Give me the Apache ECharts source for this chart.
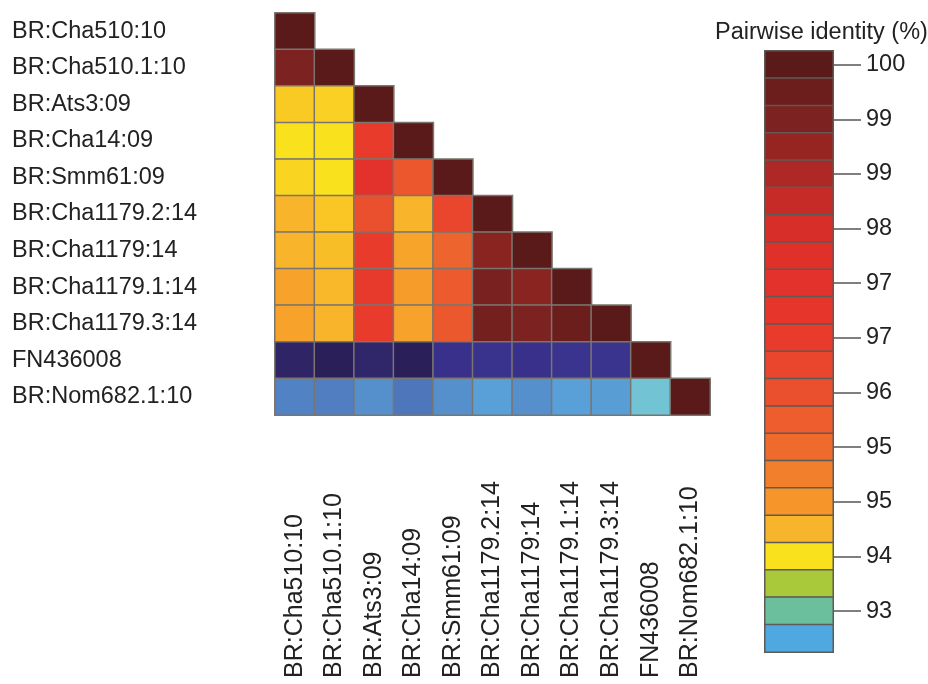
<!DOCTYPE html>
<html>
<head>
<meta charset="utf-8">
<script src="https://cdn.jsdelivr.net/npm/echarts@6/dist/echarts.min.js"></script>
<style>
  html, body { margin: 0; background: #fff; }
  #chart { width: 928px; height: 684px; }
</style>
</head>
<body>
<div id="chart"></div>
<script>
const names = [
  'BR:Cha510:10', 'BR:Cha510.1:10', 'BR:Ats3:09', 'BR:Cha14:09', 'BR:Smm61:09',
  'BR:Cha1179.2:14', 'BR:Cha1179:14', 'BR:Cha1179.1:14', 'BR:Cha1179.3:14',
  'FN436008', 'BR:Nom682.1:10'
]

// pairwise identity (%), lower triangle, row by row
const identity = [
  [100],
  [99.24, 100],
  [94.13, 94.09, 100],
  [93.96, 93.96, 96.6, 100],
  [94.06, 93.96, 97.26, 95.78, 100],
  [94.29, 94.16, 95.94, 94.29, 96.27, 100],
  [94.29, 94.22, 96.6, 94.46, 95.45, 99.08, 100],
  [94.49, 94.26, 96.76, 94.55, 95.68, 99.31, 99.08, 100],
  [94.49, 94.29, 96.6, 94.49, 95.74, 99.41, 99.24, 99.57, 100],
  [90.59, 90.33, 90.66, 90.33, 90.99, 91.06, 90.99, 91.09, 91.09, 100],
  [92.05, 91.98, 92.31, 91.88, 92.31, 92.64, 92.31, 92.64, 92.57, 93.14, 100]
]

// colour bar blocks, top to bottom
const legendValues = [
  99.9, 99.57, 99.24, 98.91, 98.58, 98.25, 97.92, 97.59, 97.26, 96.93, 96.6,
  96.27, 95.94, 95.61, 95.28, 94.95, 94.62, 94.29, 93.96, 93.63, 93.3, 92.97
]
const legendLabels = ['100', '99', '99', '98', '97', '97', '96', '95', '95', '94', '93']

// colour stops, by block step below the top (0 = 99.9 %, step 0.33 %)
const rampStops = [
  [0, '#5a1a1a'], [1, '#6c1e1d'], [2, '#7c2220'], [3, '#962522'], [4, '#ae2925'],
  [5, '#c62b27'], [6, '#d82e29'], [7, '#df302a'], [8, '#e3322b'], [9, '#e6362b'],
  [10, '#e83b2c'], [11, '#ea452d'], [12, '#eb502e'], [13, '#ed5d2e'], [14, '#ef6a2d'],
  [15, '#f27f2c'], [16, '#f5952a'], [17, '#f8b42a'], [18, '#f9e11d'], [19, '#a9c93a'],
  [20, '#6cbf9c'], [20.5, '#72c4d6'], [21, '#4fa9e0'], [22, '#5aa0d8'], [23, '#5690cc'],
  [24, '#507ec0'], [25, '#4868b0'], [26, '#3d3e96'], [27, '#38308a'], [28, '#30266a'],
  [29, '#2a1f58']
]

function toRgb (h) {
  return [1, 3, 5].map(i => parseInt(h.slice(i, i + 2), 16))
}
function colourAt (k) {
  for (let i = 0; i < rampStops.length - 1; i++) {
    const [k0, c0] = rampStops[i]
    const [k1, c1] = rampStops[i + 1]
    if (k >= k0 && k <= k1) {
      const t = (k - k0) / (k1 - k0)
      const a = toRgb(c0), b = toRgb(c1)
      return 'rgb(' + a.map((v, j) => Math.round(v + (b[j] - v) * t)).join(',') + ')'
    }
  }
  return rampStops[rampStops.length - 1][1]
}
// visualMap colours run low -> high, evenly spaced every half step
const rampColours = []
for (let k = 29; k >= 0; k -= 0.5) rampColours.push(colourAt(k))

const cellData = []
identity.forEach((row, i) => {
  row.forEach((v, j) => cellData.push([j, i, v]))
})
const legendData = legendValues.map((v, i) => [0, i, v])

const font = 'Liberation Sans, Arial, sans-serif'

const option = {
  animation: false,
  title: {
    text: 'Pairwise identity (%)',
    left: 710,
    top: 16,
    textStyle: { fontFamily: font, fontSize: 23.5, fontWeight: 'normal', color: '#222' }
  },
  visualMap: {
    type: 'continuous',
    show: false,
    seriesIndex: [0, 1],
    min: 90.33,
    max: 99.9,
    inRange: { color: rampColours }
  },
  grid: [
    { left: 275, top: 13, width: 435, height: 402 },
    { left: 765, top: 51, width: 68, height: 601 }
  ],
  xAxis: [
    {
      type: 'category',
      gridIndex: 0,
      data: names,
      axisLine: { show: false },
      axisTick: { show: false },
      splitLine: { show: false },
      axisLabel: {
        interval: 0,
        rotate: 90,
        align: 'left',
        margin: 263,
        fontFamily: font,
        fontSize: 25,
        color: '#222'
      }
    },
    {
      type: 'category',
      gridIndex: 1,
      data: [''],
      show: false
    }
  ],
  yAxis: [
    {
      type: 'category',
      gridIndex: 0,
      inverse: true,
      data: names,
      axisLine: { show: false },
      axisTick: { show: false },
      splitLine: { show: false },
      axisLabel: {
        interval: 0,
        align: 'left',
        margin: 263,
        fontFamily: font,
        fontSize: 23.5,
        color: '#222'
      }
    },
    {
      type: 'category',
      gridIndex: 1,
      inverse: true,
      position: 'right',
      data: legendValues.map(String),
      axisLine: { show: false },
      splitLine: { show: false },
      axisTick: {
        show: true,
        alignWithLabel: true,
        interval: i => i % 2 === 0,
        length: 28,
        lineStyle: { color: '#555', width: 1.5 }
      },
      axisLabel: {
        interval: i => i % 2 === 0,
        margin: 33,
        padding: [3, 0, 0, 0],
        formatter: (v, i) => legendLabels[i / 2],
        fontFamily: font,
        fontSize: 23.5,
        color: '#222'
      }
    }
  ],
  series: [
    {
      type: 'heatmap',
      xAxisIndex: 0,
      yAxisIndex: 0,
      data: cellData,
      itemStyle: { borderColor: '#7a756e', borderWidth: 1.5 },
      emphasis: { disabled: true }
    },
    {
      type: 'heatmap',
      xAxisIndex: 1,
      yAxisIndex: 1,
      data: legendData,
      itemStyle: { borderColor: '#5f5a55', borderWidth: 1.5 },
      emphasis: { disabled: true }
    }
  ]
}

const myChart = echarts.init(document.getElementById('chart'), null, { renderer: 'canvas' })
myChart.setOption(option)
</script>
</body>
</html>
